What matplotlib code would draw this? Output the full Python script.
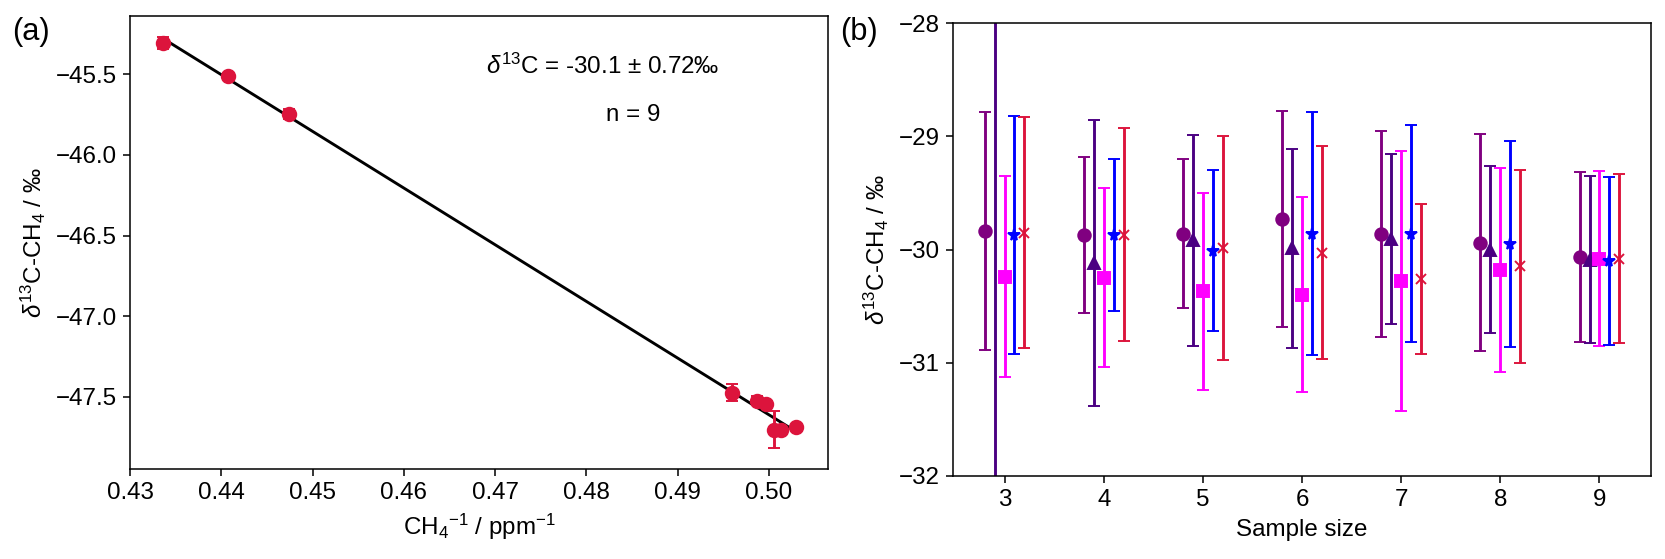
import numpy as np
import matplotlib
matplotlib.use('Agg')
import matplotlib.pyplot as plt

plt.rcParams['font.family'] = ['Liberation Sans', 'DejaVu Sans']
plt.rcParams['mathtext.fontset'] = 'custom'
plt.rcParams['mathtext.rm'] = 'Liberation Sans'
plt.rcParams['mathtext.it'] = 'Liberation Sans:italic'
plt.rcParams['font.size'] = 12.5

# (a) Keeling plot data
inv_ch4 = [0.4336, 0.4407, 0.4474, 0.4959, 0.4987, 0.4997, 0.5005, 0.5013, 0.5030]
d13c = [-45.306, -45.508, -45.748, -47.475, -47.523, -47.543, -47.705, -47.705, -47.690]
d13c_err = [0.04, 0.015, 0.03, 0.054, 0.03, 0.015, 0.115, 0.015, 0.015]

# (b) intercept vs sample size
sizes = [3, 4, 5, 6, 7, 8, 9]
series_colors = ['purple', 'indigo', 'magenta', 'blue', 'crimson']
series_markers = ['o', '^', 's', '*', 'x']
offsets = [-0.2, -0.1, 0.0, 0.1, 0.2]

vals = [
    [-29.84, -29.87, -29.86, -29.73, -29.86, -29.94, -30.07],   # purple
    [-33.00, -30.12, -29.92, -29.99, -29.91, -30.00, -30.09],   # indigo
    [-30.24, -30.25, -30.37, -30.40, -30.28, -30.18, -30.08],   # magenta
    [-29.87, -29.87, -30.01, -29.86, -29.86, -29.95, -30.10],   # blue
    [-29.85, -29.87, -29.99, -30.03, -30.26, -30.15, -30.08],   # crimson
]
errs = [
    [1.05, 0.69, 0.66, 0.95, 0.91, 0.96, 0.75],
    [6.00, 1.26, 0.93, 0.88, 0.75, 0.74, 0.74],
    [0.89, 0.79, 0.87, 0.86, 1.15, 0.90, 0.77],
    [1.05, 0.67, 0.71, 1.07, 0.96, 0.91, 0.74],
    [1.02, 0.94, 0.99, 0.94, 0.66, 0.85, 0.75],
]
marker_sizes = [6.5, 6.5, 6.5, 6, 5]

fig = plt.figure(figsize=(12, 559 / 138.833), dpi=138.833)
ax1 = fig.add_axes([130 / 1666, 90 / 559, 698 / 1666, 453 / 559])
ax2 = fig.add_axes([953 / 1666, 83 / 559, 698 / 1666, 453 / 559])

# ---- (a)
k, b = np.polyfit(inv_ch4, d13c, 1)
xx = np.array([min(inv_ch4), max(inv_ch4)])
ax1.plot(xx, k * xx + b, color='black', lw=1.5, zorder=1)
ax1.errorbar(inv_ch4, d13c, yerr=d13c_err, fmt='o', color='crimson',
             capsize=3, ms=7, zorder=2)
ax1.text(0.4818, -45.45, r'$\delta^{13}$C = -30.1 ± 0.72‰', ha='center', va='center')
ax1.text(0.4851, -45.75, 'n = 9', ha='center', va='center')
ax1.set_xlabel(r'CH$_4$$^{-1}$ / ppm$^{-1}$')
ax1.set_ylabel(r'$\delta^{13}$C-CH$_4$ / ‰')
ax1.set_xticks([0.43, 0.44, 0.45, 0.46, 0.47, 0.48, 0.49, 0.50])

# ---- (b)
for i in range(5):
    xs = [s + offsets[i] for s in sizes]
    ax2.errorbar(xs, vals[i], yerr=errs[i], fmt=series_markers[i],
                 color=series_colors[i], capsize=3, ms=marker_sizes[i])
ax2.set_ylim(-32, -28)
ax2.set_yticks([-32, -31, -30, -29, -28])
ax2.set_xticks(sizes)
ax2.set_xlabel('Sample size')
ax2.set_ylabel(r'$\delta^{13}$C-CH$_4$ / ‰')

fig.text(12 / 1666, 1 - 32 / 559, '(a)', fontsize=16, va='center')
fig.text(840 / 1666, 1 - 32 / 559, '(b)', fontsize=16, va='center')

fig.savefig('out.png', dpi=138.833)
